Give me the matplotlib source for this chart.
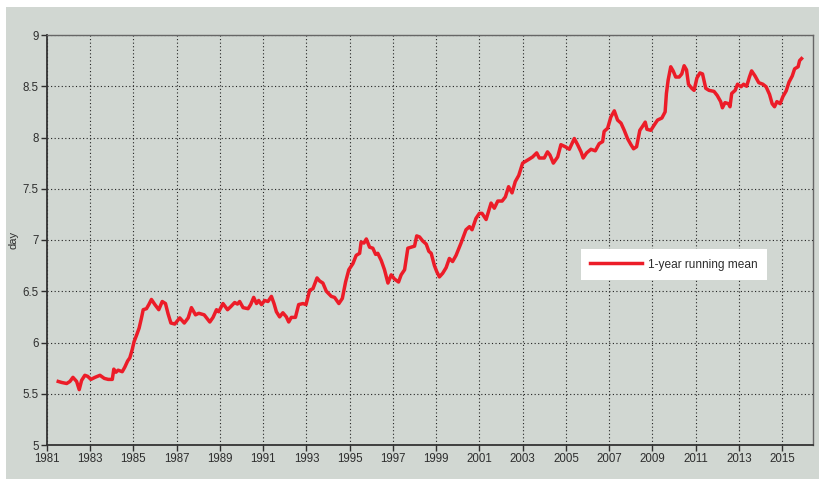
import matplotlib
matplotlib.use("Agg")
import matplotlib.pyplot as plt
from matplotlib.patches import Rectangle

plt.rcParams['font.family'] = ['Liberation Sans', 'DejaVu Sans']

years = [1981.52, 1981.68, 1981.91, 1982.06, 1982.20, 1982.37, 1982.49, 1982.60, 1982.75, 1982.88,
         1983.03, 1983.22, 1983.45, 1983.65, 1983.83, 1984.02, 1984.09, 1984.19, 1984.29, 1984.48,
         1984.60, 1984.73, 1984.83, 1984.94, 1985.03, 1985.14, 1985.26, 1985.37, 1985.45, 1985.60,
         1985.71, 1985.83, 1985.99, 1986.17, 1986.33, 1986.48, 1986.60, 1986.73, 1986.91, 1987.14,
         1987.35, 1987.53, 1987.68, 1987.87, 1988.02, 1988.27, 1988.53, 1988.68, 1988.84, 1988.94,
         1989.14, 1989.35, 1989.50, 1989.68, 1989.81, 1989.91, 1990.07, 1990.30, 1990.42, 1990.56,
         1990.69, 1990.79, 1990.92, 1991.07, 1991.22, 1991.38, 1991.50, 1991.61, 1991.76, 1991.91,
         1992.07, 1992.18, 1992.30, 1992.49, 1992.64, 1992.84, 1992.98, 1993.15, 1993.30, 1993.49,
         1993.61, 1993.76, 1993.92, 1994.15, 1994.30, 1994.50, 1994.66, 1994.81, 1994.96, 1995.15,
         1995.30, 1995.46, 1995.53, 1995.66, 1995.77, 1995.92, 1996.07, 1996.20, 1996.30, 1996.46,
         1996.61, 1996.77, 1996.92, 1997.07, 1997.26, 1997.38, 1997.54, 1997.69, 1997.84, 1998.00,
         1998.10, 1998.23, 1998.38, 1998.54, 1998.66, 1998.77, 1998.92, 1999.03, 1999.15, 1999.30,
         1999.46, 1999.61, 1999.76, 1999.92, 2000.15, 2000.38, 2000.54, 2000.66, 2000.84, 2001.00,
         2001.12, 2001.31, 2001.54, 2001.69, 2001.85, 2002.05, 2002.20, 2002.35, 2002.51, 2002.66,
         2002.82, 2003.00, 2003.16, 2003.31, 2003.46, 2003.65, 2003.77, 2004.00, 2004.15, 2004.26,
         2004.42, 2004.62, 2004.77, 2004.97, 2005.16, 2005.28, 2005.39, 2005.54, 2005.70, 2005.80,
         2005.96, 2006.16, 2006.36, 2006.54, 2006.70, 2006.77, 2006.93, 2007.08, 2007.24, 2007.39,
         2007.55, 2007.70, 2007.85, 2008.01, 2008.13, 2008.27, 2008.42, 2008.55, 2008.67, 2008.75,
         2008.93, 2009.08, 2009.24, 2009.44, 2009.59, 2009.65, 2009.73, 2009.85, 2009.96, 2010.08,
         2010.24, 2010.36, 2010.47, 2010.58, 2010.67, 2010.82, 2010.93, 2011.06, 2011.20, 2011.32,
         2011.47, 2011.62, 2011.85, 2012.00, 2012.16, 2012.24, 2012.36, 2012.52, 2012.59, 2012.67,
         2012.83, 2012.94, 2013.10, 2013.22, 2013.36, 2013.49, 2013.59, 2013.75, 2013.92, 2014.11,
         2014.26, 2014.42, 2014.54, 2014.65, 2014.76, 2014.91, 2015.04, 2015.19, 2015.32, 2015.47,
         2015.58, 2015.74, 2015.81, 2015.90]

running_mean = [5.62, 5.61, 5.60, 5.62, 5.66, 5.62, 5.54, 5.63, 5.68, 5.67,
                5.64, 5.66, 5.68, 5.65, 5.64, 5.64, 5.74, 5.71, 5.73, 5.715,
                5.76, 5.82, 5.85, 5.93, 6.01, 6.07, 6.14, 6.24, 6.32, 6.33,
                6.37, 6.42, 6.37, 6.32, 6.40, 6.38, 6.28, 6.19, 6.18, 6.24,
                6.19, 6.24, 6.34, 6.27, 6.285, 6.27, 6.20, 6.245, 6.32, 6.30,
                6.38, 6.32, 6.35, 6.39, 6.375, 6.40, 6.34, 6.33, 6.37, 6.44,
                6.38, 6.41, 6.37, 6.41, 6.40, 6.45, 6.38, 6.30, 6.25, 6.29,
                6.25, 6.20, 6.245, 6.245, 6.37, 6.38, 6.37, 6.51, 6.525, 6.63,
                6.60, 6.58, 6.50, 6.45, 6.44, 6.38, 6.43, 6.59, 6.71, 6.77,
                6.85, 6.87, 6.98, 6.97, 7.01, 6.93, 6.92, 6.86, 6.87, 6.80,
                6.71, 6.58, 6.66, 6.62, 6.59, 6.66, 6.71, 6.92, 6.93, 6.94,
                7.04, 7.03, 6.99, 6.96, 6.89, 6.87, 6.75, 6.69, 6.64, 6.675,
                6.73, 6.82, 6.79, 6.85, 6.97, 7.10, 7.13, 7.10, 7.21, 7.26,
                7.26, 7.20, 7.36, 7.31, 7.38, 7.38, 7.42, 7.52, 7.46, 7.57,
                7.63, 7.75, 7.77, 7.79, 7.81, 7.85, 7.80, 7.80, 7.86, 7.83,
                7.75, 7.81, 7.93, 7.91, 7.885, 7.94, 7.99, 7.93, 7.86, 7.80,
                7.85, 7.885, 7.87, 7.94, 7.96, 8.06, 8.09, 8.20, 8.26, 8.17,
                8.14, 8.07, 7.99, 7.93, 7.89, 7.91, 8.07, 8.11, 8.15, 8.08,
                8.07, 8.12, 8.17, 8.19, 8.25, 8.43, 8.56, 8.69, 8.65, 8.59,
                8.59, 8.62, 8.70, 8.66, 8.52, 8.48, 8.46, 8.58, 8.63, 8.62,
                8.48, 8.46, 8.45, 8.41, 8.35, 8.29, 8.34, 8.33, 8.30, 8.43,
                8.46, 8.52, 8.495, 8.52, 8.50, 8.59, 8.65, 8.60, 8.535, 8.52,
                8.495, 8.42, 8.33, 8.30, 8.35, 8.33, 8.40, 8.455, 8.54, 8.60,
                8.67, 8.69, 8.75, 8.77]

x_ticks = list(range(1981, 2016, 2))
y_ticks = [5, 5.5, 6, 6.5, 7, 7.5, 8, 8.5, 9]
y_tick_labels = ['5', '5.5', '6', '6.5', '7', '7.5', '8', '8.5', '9']
series_label = '1-year running mean'

bg = '#d1d7d2'
red = '#ec1c28'
txt = '#2e2e2e'

fig = plt.figure(figsize=(8.19, 4.79), dpi=100, facecolor='white')
bgrect = Rectangle((6 / 819, 0), 1 - 6 / 819, 1 - 7 / 479,
                   transform=fig.transFigure, facecolor=bg,
                   edgecolor='none', zorder=-10)
fig.add_artist(bgrect)

ax = fig.add_axes([47 / 819, 1 - 445 / 479, (813 - 47) / 819, (445 - 35) / 479])
ax.set_zorder(1)
ax.set_facecolor(bg)

ax.plot(years, running_mean, color=red, lw=2.5, solid_joinstyle='round',
        label=series_label, zorder=3)

ax.set_xlim(1981, 2016.43)
ax.set_ylim(5, 9)
ax.set_xticks(x_ticks)
ax.set_xticklabels([str(y) for y in x_ticks])
ax.set_yticks(y_ticks)
ax.set_yticklabels(y_tick_labels)

ax.grid(True, color='#222222', linestyle=(0, (1, 2.2)), linewidth=0.8, zorder=1)
ax.set_axisbelow(True)
ax.tick_params(axis='both', direction='out', length=4, width=1, color=txt,
               labelsize=8.3, labelcolor=txt, pad=2)

for side in ['left', 'bottom']:
    ax.spines[side].set_color('#333333')
    ax.spines[side].set_linewidth(1.3)
for side in ['top', 'right']:
    ax.spines[side].set_color('#666666')
    ax.spines[side].set_linewidth(1.0)

ax.set_ylabel('day', fontsize=8, color=txt, labelpad=3)

leg = ax.legend(loc='upper left', bbox_to_anchor=(0.697, 0.478), frameon=True,
                fancybox=False, framealpha=1, edgecolor='none', facecolor='white',
                fontsize=8.6, handlelength=4.3, handletextpad=0.5,
                borderpad=0.8, borderaxespad=0)
for t in leg.get_texts():
    t.set_color(txt)

fig.savefig('out.png', dpi=100, facecolor='white')
